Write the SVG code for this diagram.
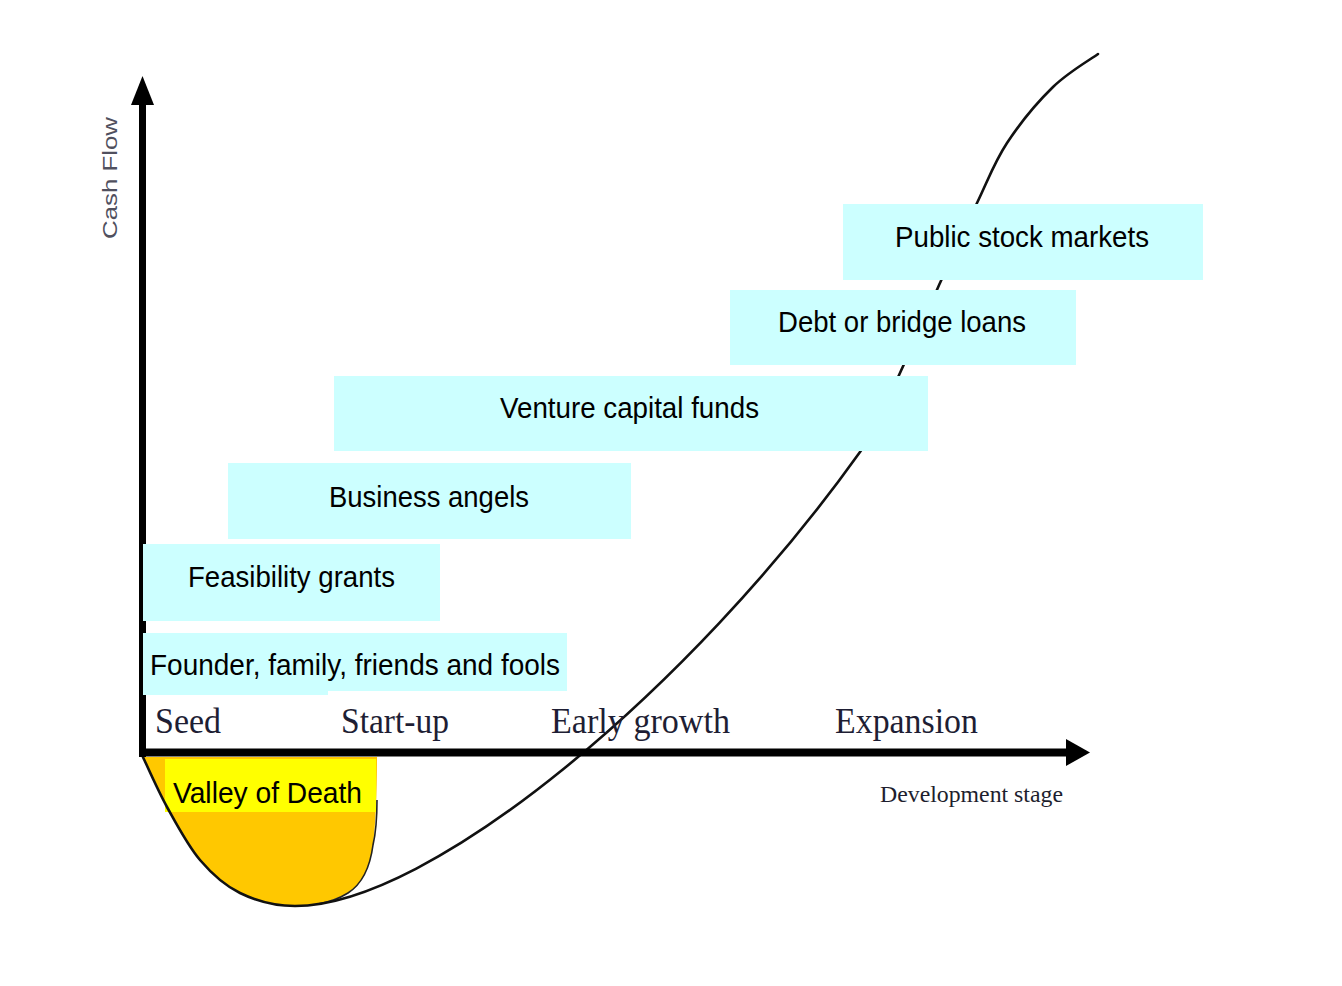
<svg xmlns="http://www.w3.org/2000/svg" width="1342" height="986" viewBox="0 0 1342 986">
<style>
.box{fill:#CCFFFF;}
.lbl{font-family:"Liberation Sans",Arial,sans-serif;font-size:30px;fill:#000;}
.stage{font-family:"Liberation Serif","Times New Roman",serif;font-size:36px;fill:#1e1e34;}
.axis{stroke:#000;fill:none;}
.curve{stroke:#111;stroke-width:2.6;fill:none;stroke-linecap:round;}
</style>
<rect width="1342" height="986" fill="#fff"/>

<g id="valley">
<path d="M142,757 C146.2,763.7 157.3,789.5 167,807 C176.7,824.5 187.8,845.7 200,860 C212.2,874.3 224.2,885.3 240,893 C255.8,900.7 272.8,906 295,906 C318,905 336,900 348,893 C362,884 370,868 373,845 C376,820 377,790 377,757 Z" fill="#FFC800"/>
<path d="M377,800 C377,820 376,832 373,845 C370,868 362,884 348,893 C340,898 330,902 318,904" fill="none" stroke="#222" stroke-width="1.6"/>
<rect x="165" y="759" width="211" height="53" fill="#FFFF00"/>
<text class="lbl" x="173" y="803" font-size="32" textLength="189" lengthAdjust="spacingAndGlyphs">Valley of Death</text>
</g>

<g id="connectors">
<path class="curve" d="M142,755 C146.2,763.7 157.3,789.5 167,807 C176.7,824.5 187.8,845.7 200,860 C212.2,874.3 224.2,885.3 240,893 C255.8,900.7 276.7,906 295,906 C430,906 690,690 860,452 C879,425.4 927.5,310.5 940,283 C952.5,255.5 965.8,226.3 977,203 C988.2,179.7 994.3,162.3 1007,143 C1019.7,123.7 1037.8,101.8 1053,87 C1068.2,72.2 1090.5,59.5 1098,54"/>
<line class="axis" x1="142.5" y1="757" x2="142.5" y2="100" stroke-width="7"/>
<polygon points="142.5,76 131,105 154,105" fill="#000"/>
<line class="axis" x1="139" y1="752.5" x2="1070" y2="752.5" stroke-width="8"/>
<polygon points="1090,752.5 1066,739 1066,766" fill="#000"/>
</g>

<g id="axis-labels">
<text x="0" y="0" transform="translate(117,178) rotate(-90)" text-anchor="middle" font-family="'Liberation Sans',Arial,sans-serif" font-size="20" fill="#50505e" textLength="122" lengthAdjust="spacingAndGlyphs">Cash Flow</text>
<text x="880" y="802" font-family="'Liberation Serif','Times New Roman',serif" font-size="24" fill="#1e1e2e" textLength="183" lengthAdjust="spacingAndGlyphs">Development stage</text>
</g>

<g id="stages">
<text class="stage" x="155" y="733" textLength="66" lengthAdjust="spacingAndGlyphs">Seed</text>
<text class="stage" x="341" y="733" textLength="108" lengthAdjust="spacingAndGlyphs">Start-up</text>
<text class="stage" x="551" y="733" textLength="179" lengthAdjust="spacingAndGlyphs">Early growth</text>
<text class="stage" x="835" y="733" textLength="143" lengthAdjust="spacingAndGlyphs">Expansion</text>
</g>

<g id="public-stock-markets">
<rect class="box" x="843" y="204" width="360" height="76"/>
<text class="lbl" x="895" y="247" textLength="254" lengthAdjust="spacingAndGlyphs">Public stock markets</text>
</g>
<g id="debt-bridge-loans">
<rect class="box" x="730" y="290" width="346" height="75"/>
<text class="lbl" x="778" y="332" textLength="248" lengthAdjust="spacingAndGlyphs">Debt or bridge loans</text>
</g>
<g id="venture-capital-funds">
<rect class="box" x="334" y="376" width="594" height="75"/>
<text class="lbl" x="500" y="418" textLength="259" lengthAdjust="spacingAndGlyphs">Venture capital funds</text>
</g>
<g id="business-angels">
<rect class="box" x="228" y="463" width="403" height="76"/>
<text class="lbl" x="329" y="507" textLength="200" lengthAdjust="spacingAndGlyphs">Business angels</text>
</g>
<g id="feasibility-grants">
<rect class="box" x="143" y="544" width="297" height="77"/>
<text class="lbl" x="188" y="587" textLength="207" lengthAdjust="spacingAndGlyphs">Feasibility grants</text>
</g>
<g id="founder-family">
<rect class="box" x="143" y="633" width="424" height="58"/>
<rect class="box" x="143" y="690" width="185" height="5"/>
<text class="lbl" x="150" y="675" textLength="410" lengthAdjust="spacingAndGlyphs">Founder, family, friends and fools</text>
</g>
</svg>
